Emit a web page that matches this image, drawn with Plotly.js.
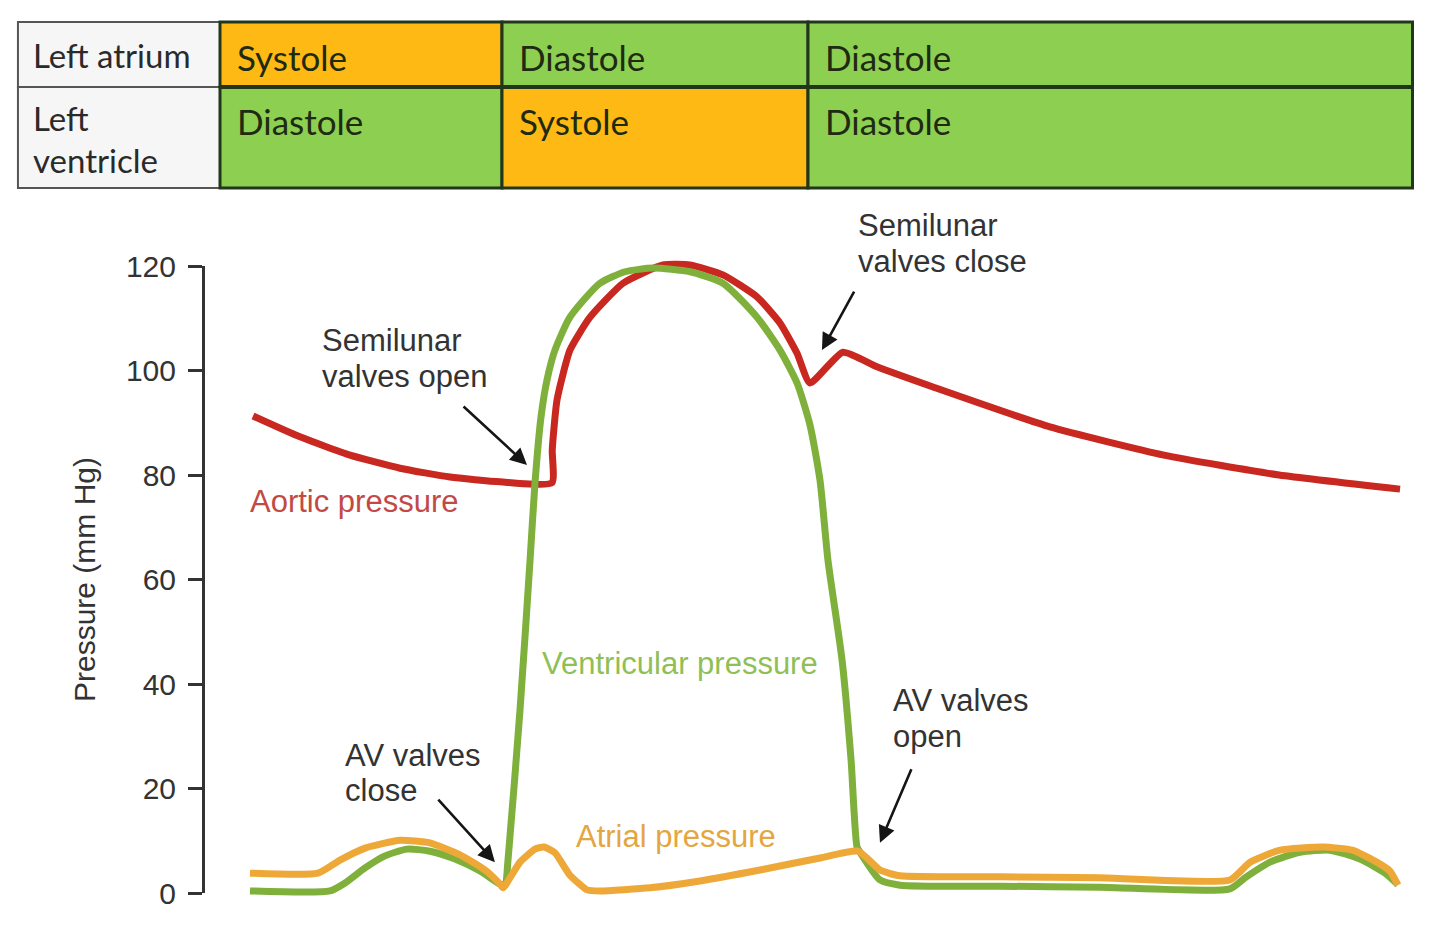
<!DOCTYPE html>
<html>
<head>
<meta charset="utf-8">
<script src="https://cdn.plot.ly/plotly-3.0.1.min.js"></script>
<style>html,body{margin:0;padding:0;background:#fff;}#chart{width:1440px;height:927px;}</style>
</head>
<body>
<div id="chart"></div>
<script>
// ---- Data (time in ms, pressure in mm Hg) ----
const aorticTime = [22, 53.3, 86.7, 120, 153.3, 186.7, 221.3, 221.5, 224.7, 233.3, 246.7, 268.7, 295.3, 313.3, 335.3, 358, 373.3, 384.7, 393.3, 415.3, 438, 476.7, 553.3, 629.3, 706, 786.7];
const aorticP    = [91.3, 87.3, 83.8, 81.3, 79.6, 78.7, 78.5, 84.8, 94.4, 103.9, 110.2, 116.7, 120.2, 120.2, 118.3, 114.1, 109.1, 103.3, 97.6, 103.5, 100.7, 96.7, 89.2, 83.8, 80.0, 77.3];

const ventTime = [20, 73.3, 83.3, 96.7, 110, 124.7, 140, 156.7, 173.3, 186.7, 190, 192, 200, 206.7, 210, 214, 218, 223.3, 233.3, 253.3, 270, 288.7, 313.3, 335.3, 358, 373.3, 384.7, 393.3, 400, 405.3, 414.7, 420.7, 424.7, 426.7, 440, 453.3, 520, 586.7, 673.3, 683.3, 700, 720, 740, 760, 776.7, 785.3];
const ventP    = [0.4, 0.4, 1.9, 4.8, 7.1, 8.4, 8.0, 6.5, 4.2, 1.7, 1.5, 6.3, 35.0, 63.7, 78.5, 91.1, 98.2, 103.9, 110.2, 116.7, 118.9, 119.6, 118.9, 116.7, 110.2, 103.9, 97.6, 89.6, 79.0, 63.7, 44.6, 25.5, 8.8, 7.8, 2.5, 1.5, 1.3, 1.1, 0.8, 2.9, 5.9, 7.8, 8.2, 6.5, 3.8, 1.6];

const atrialTime = [20, 65.3, 80, 96.7, 120, 140, 160, 176.7, 186.7, 188.7, 200, 210, 216, 223.3, 233.3, 244.7, 253.3, 286.7, 320, 360, 400, 425.3, 440, 453.3, 520, 586.7, 673.3, 686.7, 706.7, 735.3, 755, 770, 780, 785.3];
const atrialP    = [3.8, 3.8, 6.3, 8.6, 10.1, 9.6, 7.3, 4.4, 1.7, 1.0, 5.9, 8.4, 8.8, 7.7, 3.4, 0.6, 0.4, 1.0, 2.3, 4.4, 6.7, 8.0, 4.4, 3.3, 3.1, 2.9, 2.5, 5.9, 8.2, 8.8, 8.2, 6.1, 4.2, 1.5];

// Phase table
const phaseBounds = [0, 188, 392, 795];
const atriumStates = ['Systole', 'Diastole', 'Diastole'];
const ventricleStates = ['Diastole', 'Systole', 'Diastole'];
const rowLabels = ['Left atrium', 'Left', 'ventricle'];

// Events (arrow tip time, pressure)
const eventNames = ['Semilunar valves open', 'Semilunar valves close', 'AV valves close', 'AV valves open'];
const eventTime = [204.7, 401.3, 183.3, 440];
const eventP = [81.9, 103.9, 5.9, 9.6];

const yTicks = [0, 20, 40, 60, 80, 100, 120];

// ---- Styling ----
const RED = '#c8281f', GREEN = '#7fb03c', ORANGE = '#eea838';
const SYS = '#feb914', DIA = '#8dcf50', BORDER = '#22361a';
const labelCol0 = -134.7;

const traces = [
  {x: [], y: [], xaxis: 'x', yaxis: 'y', showlegend: false, hoverinfo: 'skip'},
  {x: aorticTime, y: aorticP, xaxis: 'x2', yaxis: 'y2', mode: 'lines', name: 'Aortic pressure',
   line: {color: RED, width: 7, shape: 'spline', smoothing: 0.5}},
  {x: ventTime, y: ventP, xaxis: 'x2', yaxis: 'y2', mode: 'lines', name: 'Ventricular pressure',
   line: {color: GREEN, width: 7, shape: 'spline', smoothing: 0.6}},
  {x: atrialTime, y: atrialP, xaxis: 'x2', yaxis: 'y2', mode: 'lines', name: 'Atrial pressure',
   line: {color: ORANGE, width: 7, shape: 'spline', smoothing: 0.5}}
];

const shapes = [];
const annotations = [];
const rowTop = 0.9763, rowMid = 0.9061, rowBot = 0.7972;

// label column
shapes.push({type: 'rect', xref: 'x2', yref: 'paper', x0: labelCol0, x1: phaseBounds[0], y0: rowMid, y1: rowTop,
  fillcolor: '#f6f6f6', line: {color: '#555', width: 2}});
shapes.push({type: 'rect', xref: 'x2', yref: 'paper', x0: labelCol0, x1: phaseBounds[0], y0: rowBot, y1: rowMid,
  fillcolor: '#f6f6f6', line: {color: '#555', width: 2}});

for (let i = 0; i < atriumStates.length; i++) {
  shapes.push({type: 'rect', xref: 'x2', yref: 'paper', x0: phaseBounds[i], x1: phaseBounds[i + 1], y0: rowMid, y1: rowTop,
    fillcolor: atriumStates[i] === 'Systole' ? SYS : DIA, line: {color: BORDER, width: 3}});
  shapes.push({type: 'rect', xref: 'x2', yref: 'paper', x0: phaseBounds[i], x1: phaseBounds[i + 1], y0: rowBot, y1: rowMid,
    fillcolor: ventricleStates[i] === 'Systole' ? SYS : DIA, line: {color: BORDER, width: 3}});
  annotations.push({xref: 'x2', yref: 'paper', x: phaseBounds[i], y: 0.9385, xanchor: 'left', yanchor: 'middle', xshift: 15,
    text: atriumStates[i], showarrow: false, font: {family: 'Lato', size: 35, color: '#1e2a12'}});
  annotations.push({xref: 'x2', yref: 'paper', x: phaseBounds[i], y: 0.8695, xanchor: 'left', yanchor: 'middle', xshift: 15,
    text: ventricleStates[i], showarrow: false, font: {family: 'Lato', size: 35, color: '#1e2a12'}});
}
// thick row divider
shapes.push({type: 'line', xref: 'x2', yref: 'paper', x0: phaseBounds[0], x1: phaseBounds[3], y0: rowMid, y1: rowMid,
  line: {color: BORDER, width: 4}});

const labelY = [0.9407, 0.8727, 0.8274];
rowLabels.forEach((t, i) => annotations.push({xref: 'x2', yref: 'paper', x: labelCol0, y: labelY[i], xanchor: 'left',
  yanchor: 'middle', xshift: 13, text: t, showarrow: false, font: {family: 'Lato', size: 33, color: '#2a2a2a'}}));

// event arrows
const arrowOffsets = [[-65, -60], [33, -60], [-58, -64], [32, -75]];
eventNames.forEach((n, i) => annotations.push({xref: 'x2', yref: 'y2', x: eventTime[i], y: eventP[i], text: '',
  showarrow: true, ax: arrowOffsets[i][0], ay: arrowOffsets[i][1], arrowhead: 2, arrowsize: 1.3, arrowwidth: 2.6,
  arrowcolor: '#151515', standoff: 0}));

// text labels
const textFont = {family: 'Liberation Sans, Arial, sans-serif', size: 31, color: '#333'};
const textLabels = [
  ['Semilunar', 66.7, 105.8], ['valves open', 66.7, 98.9],
  ['Semilunar', 424, 127.7], ['valves close', 424, 120.8],
  ['AV valves', 82, 26.4], ['close', 82, 19.7],
  ['AV valves', 447.3, 36.9], ['open', 447.3, 29.9]
];
textLabels.forEach(l => annotations.push({xref: 'x2', yref: 'y2', x: l[1], y: l[2], text: l[0], showarrow: false,
  xanchor: 'left', yanchor: 'middle', font: textFont}));
annotations.push({xref: 'x2', yref: 'y2', x: 18.7, y: 75, text: 'Aortic pressure', showarrow: false, xanchor: 'left',
  yanchor: 'middle', font: {family: textFont.family, size: 31, color: '#c24a45'}});
annotations.push({xref: 'x2', yref: 'y2', x: 213.3, y: 44, text: 'Ventricular pressure', showarrow: false, xanchor: 'left',
  yanchor: 'middle', font: {family: textFont.family, size: 31, color: '#8fbf55'}});
annotations.push({xref: 'x2', yref: 'y2', x: 236, y: 10.9, text: 'Atrial pressure', showarrow: false, xanchor: 'left',
  yanchor: 'middle', font: {family: textFont.family, size: 31, color: '#e3a640'}});

const layout = {
  width: 1440, height: 927,
  margin: {l: 0, r: 0, t: 0, b: 0},
  paper_bgcolor: '#ffffff', plot_bgcolor: 'rgba(0,0,0,0)',
  showlegend: false,
  xaxis: {domain: [205 / 1440, 1], range: [0, 1], visible: false, anchor: 'y', fixedrange: true},
  yaxis: {domain: [34 / 927, 661 / 927], range: [0, 120], anchor: 'x', tickvals: yTicks, ticks: 'outside',
    ticklen: 14, tickwidth: 3, tickcolor: '#333', showline: true, linecolor: '#333', linewidth: 3,
    showgrid: false, zeroline: false, ticklabelstandoff: 6,
    tickfont: {family: 'Liberation Sans, Arial, sans-serif', size: 30, color: '#333'},
    title: {text: 'Pressure (mm Hg)', font: {family: 'Liberation Sans, Arial, sans-serif', size: 30, color: '#333'}, standoff: 22}},
  xaxis2: {domain: [0, 1], range: [-146.667, 813.333], visible: false, anchor: 'y2', fixedrange: true},
  yaxis2: {domain: [0, 1], range: [-6.507, 170.909], visible: false, anchor: 'x2', fixedrange: true},
  shapes: shapes,
  annotations: annotations
};

Plotly.newPlot('chart', traces, layout, {displayModeBar: false, staticPlot: true});
</script>
</body>
</html>
